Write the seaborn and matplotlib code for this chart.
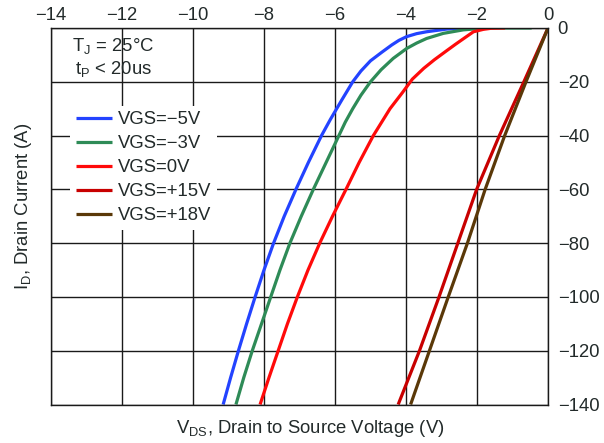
import pandas as pd
import matplotlib.pyplot as plt
import seaborn as sns

# ------------------------------------------------------------
# Curve data (VDS in V, ID in A)
# ------------------------------------------------------------
vgs_m5_vds = [-2.3, -2.85, -3.42, -3.7, -3.98, -4.2, -4.40, -4.68, -5.00, -5.27,
              -5.50, -5.81, -6.13, -6.38, -6.75, -7.10, -7.43, -7.73, -8.00, -8.25,
              -8.49, -8.72, -8.94, -9.15]
vgs_m5_id = [0, -0.4, -1.4, -2.1, -3.2, -4.6, -6.3, -9.0, -12.2, -16.0,
             -20, -26.8, -34, -40, -50, -60, -70, -80, -90, -100,
             -110, -120, -130, -140]

vgs_m3_vds = [-0.46, -1.5, -1.92, -2.39, -2.95, -3.42, -3.7, -3.98, -4.36, -4.70,
              -5.00, -5.27, -5.50, -5.71, -5.89, -6.25, -6.61, -6.95, -7.27, -7.55,
              -7.81, -8.07, -8.33, -8.57, -8.79]
vgs_m3_id = [0, 0, -0.2, -0.7, -2.0, -3.9, -5.6, -7.6, -11.3, -15.5,
             -20, -25, -30, -35, -40, -50, -60, -70, -80, -90,
             -100, -110, -120, -130, -140]

vgs_0_vds = [-1.21, -1.6, -1.82, -2.10, -2.34, -2.6, -2.85, -3.2, -3.5, -3.82,
             -4.1, -4.45, -4.92, -5.32, -5.69, -6.07, -6.43, -6.76, -7.06, -7.34,
             -7.60, -7.86, -8.11]
vgs_0_id = [0, -0.1, -0.5, -1.4, -3.6, -6.0, -8.4, -11.8, -15.0, -19.0,
            -24, -30, -40, -50, -60, -70, -80, -90, -100, -110,
            -120, -130, -140]

vgs_p15_vds = [0, -0.68, -1.37, -2.01, -2.54, -3.07, -3.62, -4.22]
vgs_p15_id = [0, -20, -40, -60, -80, -100, -120, -140]

vgs_p18_vds = [0, -0.62, -1.22, -1.77, -2.27, -2.81, -3.34, -3.87]
vgs_p18_id = [0, -20, -40, -60, -80, -100, -120, -140]

labels = ['VGS=\u22125V', 'VGS=\u22123V', 'VGS=0V', 'VGS=+15V', 'VGS=+18V']
colors = ['#2343ff', '#2e8b57', '#ff0a0a', '#c80000', '#5a3808']

x_ticks = [-14, -12, -10, -8, -6, -4, -2, 0]
y_ticks = [0, -20, -40, -60, -80, -100, -120, -140]

series = [
    (vgs_m5_vds, vgs_m5_id),
    (vgs_m3_vds, vgs_m3_id),
    (vgs_0_vds, vgs_0_id),
    (vgs_p15_vds, vgs_p15_id),
    (vgs_p18_vds, vgs_p18_id),
]
frames = []
for lab, (xs, ys) in zip(labels, series):
    frames.append(pd.DataFrame({'vds': xs, 'id': ys, 'curve': lab}))
df = pd.concat(frames, ignore_index=True)

# ------------------------------------------------------------
# Style
# ------------------------------------------------------------
sns.set_theme(style='white')
plt.rcParams['font.family'] = ['Liberation Sans', 'DejaVu Sans']
text_col = '#222a2a'
fs = 13.3

fig = plt.figure(figsize=(6.04, 4.43), dpi=100)
ax = fig.add_axes([0.0844, 0.0869, 0.8229, 0.8499])

sns.lineplot(data=df, x='vds', y='id', hue='curve', hue_order=labels,
             palette=dict(zip(labels, colors)), sort=False, estimator=None,
             lw=2.3, ax=ax, solid_joinstyle='round', solid_capstyle='butt')

ax.set_xlim(-14, 0)
ax.set_ylim(-140, 0)
ax.set_xticks(x_ticks)
ax.set_yticks(y_ticks)
ax.grid(True, color='#1a1a1a', lw=1.0)
ax.set_axisbelow(True)
for s in ax.spines.values():
    s.set_color('#1a1a1a')
    s.set_linewidth(1.0)

ax.xaxis.tick_top()
ax.yaxis.tick_right()
ax.tick_params(length=0, labelsize=fs, colors=text_col)
ax.tick_params(axis='x', pad=3)
ax.tick_params(axis='y', pad=7)
ax.xaxis.set_label_position('bottom')
ax.yaxis.set_label_position('left')
ax.set_xlabel(r'V$_{\mathregular{DS}}$, Drain to Source Voltage (V)',
              fontsize=fs, color=text_col, labelpad=10)
ax.set_ylabel(r'I$_{\mathregular{D}}$, Drain Current (A)',
              fontsize=fs, color=text_col, labelpad=12)
ax.xaxis.label.set_x(0.521)
ax.yaxis.label.set_y(0.527)

ax.text(-13.41, -8.4, r'T$_{\mathregular{J}}$ = 25°C', fontsize=fs,
        color=text_col, va='baseline', ha='left')
ax.text(-13.32, -17.2, r't$_{\mathregular{P}}$ < 20us', fontsize=fs,
        color=text_col, va='baseline', ha='left')

handles, labs = ax.get_legend_handles_labels()
leg = ax.legend(handles, labs, loc='upper left', bbox_to_anchor=(0.039, 0.794),
                fontsize=fs, frameon=True, framealpha=1, facecolor='white',
                edgecolor='none', fancybox=False, handlelength=1.95,
                handletextpad=0.3, labelspacing=0.38, borderpad=0.3,
                borderaxespad=0)
for t in leg.get_texts():
    t.set_color(text_col)
for h in leg.get_lines():
    h.set_linewidth(2.3)

fig.savefig('out.png', dpi=100)
